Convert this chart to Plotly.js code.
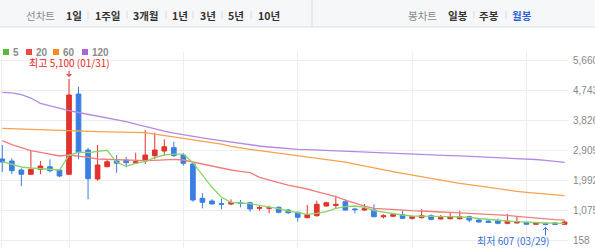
<!DOCTYPE html>
<html><head><meta charset="utf-8">
<script src="https://cdn.plot.ly/plotly-3.0.1.min.js"></script>
<style>html,body{margin:0;padding:0;background:#fff;overflow:hidden}#chart{width:595px;height:248px}</style>
</head><body><div id="chart"></div>
<script>
// ---- data (monthly candles, oldest -> newest) ----
const opens  = [2643,2582,2306,2174,2327,2407,2306,2174,4637,2919,2029,2407,2582,2612,2520,2582,2744,2889,2990,2766,2490,1437,1355,1272,1263,1300,1302,1130,1130,1161,1078,1008,842,904,1201,1220,1333,1110,1078,1078,870,885,934,822,842,904,802,811,811,873,771,740,750,670,680,700,640,660,680,640];
const highs  = [3073,2665,2358,2889,2582,2634,2327,5100,4861,2990,3073,2634,2766,2714,2836,3533,3450,3247,3174,2818,2530,1591,1407,1425,1407,1385,1333,1210,1210,1190,1110,1026,1232,1364,1333,1517,1407,1149,1262,1253,946,964,1078,904,1100,946,925,995,1057,904,800,760,822,955,873,710,700,700,700,760];
const lows   = [2244,2174,1815,2150,2174,2235,2082,2160,2634,1407,1977,2388,2223,2388,2511,2490,2634,2766,2714,2438,1333,1131,1253,1100,1222,1161,1026,1057,977,977,955,720,822,873,1181,1109,1057,977,1057,855,822,866,802,781,822,760,790,790,790,700,690,690,640,640,670,630,630,607,620,620];
const closes = [2551,2284,2174,2327,2428,2284,2122,4607,2836,2039,2459,2560,2511,2530,2560,2766,2919,3020,2744,2511,1385,1315,1263,1255,1310,1283,1109,1150,1150,1008,995,855,934,1253,1302,1250,1078,1090,1118,873,900,934,822,873,904,793,842,873,873,771,710,700,670,740,720,640,670,640,640,710];
const ma5    = [2560,2474,2398,2367,2346,2327,2306,2760,2855,2836,2867,2910,2542,2419,2511,2572,2683,2766,2796,2796,2530,2152,1775,1468,1315,1293,1272,1222,1180,1118,1048,995,946,977,1026,1131,1180,1201,1161,1057,1008,977,925,894,894,873,885,873,864,855,818,787,762,741,720,701,689,680,673,670];
const ma20   = [3205,3082,2990,2898,2849,2796,2735,2766,2735,2695,2643,2634,2612,2603,2603,2591,2603,2612,2634,2612,2551,2480,2407,2358,2306,2266,2223,2082,1990,1916,1845,1793,1723,1640,1569,1486,1385,1284,1201,1131,1109,1100,1078,1057,1048,1026,1017,1008,995,977,965,946,934,916,885,855,824,802,781,772];
const ma60   = [3585,3573,3560,3548,3536,3524,3511,3505,3496,3490,3484,3478,3468,3462,3456,3450,3407,3364,3321,3278,3235,3192,3146,3097,3030,2977,2941,2901,2861,2821,2781,2747,2704,2664,2627,2588,2545,2484,2422,2364,2312,2257,2204,2152,2100,2045,1987,1941,1898,1855,1812,1766,1723,1680,1649,1621,1591,1563,1535,1517];
const ma120  = [4689,4674,4622,4514,4349,4269,4199,4131,4070,4011,3956,3904,3855,3787,3711,3634,3564,3496,3435,3379,3333,3290,3247,3204,3161,3115,3073,3042,3012,2984,2956,2941,2929,2916,2901,2886,2873,2861,2852,2840,2830,2818,2809,2796,2784,2772,2760,2750,2738,2726,2714,2701,2689,2680,2668,2652,2628,2600,2572,2542];
const yTickVals = [158,1075,1992,2909,3826,4743,5660];
const yTickText = ['158','1,075','1,992','2,909','3,826','4,743','5,660'];
const yearStarts = [7,19,31,43,55];
const maNames = ['5','20','60','120'];
const highIdx = 7, highVal = 5100, highLabel = '최고 5,100 (01/31)';
const lowIdx = 57, lowVal = 607, lowLabel = '최저 607 (03/29)';
const periodTabs = ['1일','1주일','3개월','1년','3년','5년','10년'];
const candleTabs = ['일봉','주봉','월봉'];

const idx = opens.map((_, i) => i);

// ---- layout helpers (pixels -> paper) ----
const W = 595, H = 248, ML = 0, MR = 27, MT = 52, MB = 0;
const PW = W - ML - MR, PH = H - MT - MB;
const px = x => (x - ML) / PW;
const py = y => (H - MB - y) / PH;

const RED = '#e2322c', BLUE = '#3b7fe2';
const lineCols = ['#8ad46a', '#f27d7d', '#f6a24e', '#b38ae0'];
const legCols = ['#55bb38', '#ef4848', '#f58a22', '#a16ad6'];
const KR = '"Noto Sans CJK KR", "Noto Sans", sans-serif';

const mas = [ma120, ma60, ma20, ma5];
const maCols = [lineCols[3], lineCols[2], lineCols[1], lineCols[0]];
const traces = mas.map((m, k) => ({
  type: 'scatter', mode: 'lines', x: idx, y: m,
  line: {color: maCols[k], width: 1.3}, hoverinfo: 'skip', showlegend: false
}));
traces.push({
  type: 'candlestick', x: idx, open: opens, high: highs, low: lows, close: closes,
  increasing: {line: {color: RED, width: 1}, fillcolor: RED},
  decreasing: {line: {color: BLUE, width: 1}, fillcolor: BLUE},
  whiskerwidth: 0, hoverinfo: 'skip', showlegend: false
});

const shapes = [];
const annotations = [];
// header bar
shapes.push({type: 'rect', xref: 'paper', yref: 'paper', x0: px(0), x1: px(W), y0: py(27), y1: py(0),
  fillcolor: '#f6f7f9', line: {width: 0}, layer: 'above'});
shapes.push({type: 'line', xref: 'paper', yref: 'paper', x0: px(0), x1: px(W), y0: py(27), y1: py(27),
  line: {color: '#dcdfe4', width: 1}, layer: 'above'});
shapes.push({type: 'line', xref: 'paper', yref: 'paper', x0: px(312), x1: px(312), y0: py(0), y1: py(27),
  line: {color: '#dcdfe4', width: 1}, layer: 'above'});
// left border
shapes.push({type: 'line', xref: 'paper', yref: 'paper', x0: px(1.5), x1: px(1.5), y0: py(248), y1: py(56),
  line: {color: '#eeeeee', width: 1}, layer: 'below'});

function hText(t, x, opts) {
  annotations.push(Object.assign({text: t, xref: 'paper', yref: 'paper', x: px(x), y: py(15),
    xanchor: 'center', yanchor: 'middle', showarrow: false,
    font: {family: KR, size: 10.5, color: '#333'}}, opts || {}));
}
function sep(x) {
  shapes.push({type: 'line', xref: 'paper', yref: 'paper', x0: px(x), x1: px(x), y0: py(11), y1: py(19),
    line: {color: '#dddddd', width: 1}, layer: 'above'});
}
hText('선차트', 40, {font: {family: KR, size: 10.5, color: '#8a8a8a'}});
const periodX = [74, 108, 145.5, 179.5, 208, 236, 268.5];
const periodSep = [88, 127, 166, 193, 222, 251];
periodTabs.forEach((t, i) => hText('<b>' + t + '</b>', periodX[i]));
periodSep.forEach(sep);
hText('봉차트', 422, {font: {family: KR, size: 10.5, color: '#8a8a8a'}});
const candleX = [458, 489, 522];
candleTabs.forEach((t, i) => hText('<b>' + t + '</b>', candleX[i],
  i === 2 ? {font: {family: KR, size: 10.5, color: '#2f62d6'}} : {}));
[474, 506].forEach(sep);

// MA legend
const legSq = [3, 26, 53, 82];
maNames.forEach((n, i) => {
  shapes.push({type: 'rect', xref: 'paper', yref: 'paper', x0: px(legSq[i]), x1: px(legSq[i] + 6),
    y0: py(55), y1: py(49), fillcolor: legCols[i], line: {width: 0}, layer: 'above'});
  annotations.push({text: '<b>' + n + '</b>', xref: 'paper', yref: 'paper', x: px(legSq[i] + 8.5), y: py(52),
    xanchor: 'left', yanchor: 'middle', showarrow: false, borderpad: 0,
    font: {family: '"Liberation Sans", Arial, sans-serif', size: 10, color: '#8c8c8c'}});
});

// high marker (text + arrow)
annotations.push({x: highIdx, y: highVal, xref: 'x', yref: 'y', text: highLabel,
  showarrow: true, ax: 0, ay: -16, arrowhead: 4, arrowsize: 0.9, arrowwidth: 1, arrowcolor: '#e8261f',
  standoff: 2, borderpad: 0, font: {family: KR, size: 10, color: '#e8261f'}});
// low marker: arrow drawn as a pixel-sized path anchored at the low point
shapes.push({type: 'path', xref: 'x', yref: 'y', xsizemode: 'pixel', ysizemode: 'pixel',
  xanchor: lowIdx, yanchor: lowVal, path: 'M0,-2 L0,-10 M-2.6,-4.8 L0,-2 L2.6,-4.8',
  line: {color: '#3a6fd8', width: 1}, layer: 'above'});
annotations.push({x: lowIdx, y: lowVal, xref: 'x', yref: 'y', text: lowLabel,
  showarrow: false, xanchor: 'right', yanchor: 'middle', xshift: 4, yshift: -15, borderpad: 0,
  font: {family: KR, size: 10, color: '#3a6fd8'}});

const layout = {
  width: W, height: H, margin: {l: ML, r: MR, t: MT, b: MB, pad: 0},
  paper_bgcolor: '#ffffff', plot_bgcolor: '#ffffff', showlegend: false,
  xaxis: {type: 'linear', range: [-0.24, 59.36], tickvals: yearStarts, showticklabels: false,
    ticks: '', showgrid: true, gridcolor: '#eeeeee', gridwidth: 1, zeroline: false, showline: false,
    rangeslider: {visible: false}, fixedrange: true},
  yaxis: {side: 'right', range: [-87.5, 5926.6], tickvals: yTickVals, ticktext: yTickText,
    ticks: '', ticklabelstandoff: 4, showgrid: true, gridcolor: '#eeeeee', gridwidth: 1, zeroline: false, showline: false,
    tickfont: {family: '"Liberation Sans", Arial, sans-serif', size: 10, color: '#888888'}, fixedrange: true},
  shapes: shapes, annotations: annotations, hovermode: false
};
Plotly.newPlot('chart', traces, layout, {displayModeBar: false, staticPlot: true});
</script>
</body></html>
